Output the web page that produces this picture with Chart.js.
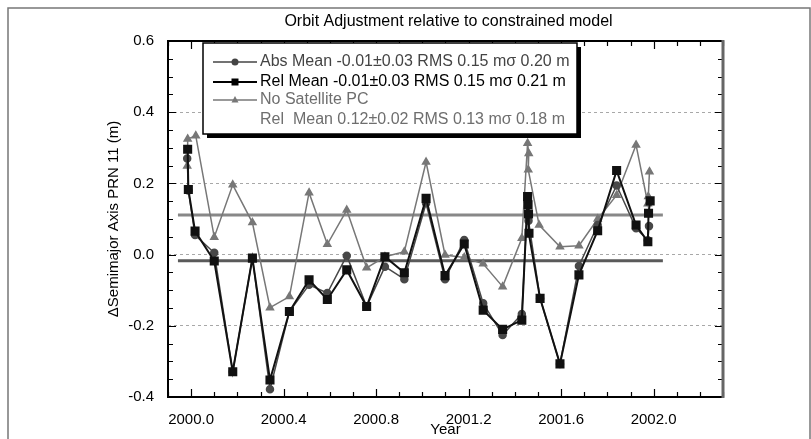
<!DOCTYPE html>
<html>
<head>
<meta charset="utf-8">
<script src="https://cdn.jsdelivr.net/npm/chart.js"></script>
<style>
  html, body { margin: 0; padding: 0; background: #fff; }
  canvas { display: block; }
</style>
</head>
<body>
<canvas id="orbitchart" width="811" height="439"></canvas>
<script>
// values (year, semimajor axis adjustment in m)
const relYears = [1999.985, 1999.988, 2000.017, 2000.100, 2000.180, 2000.265, 2000.341, 2000.425, 2000.510, 2000.589, 2000.673, 2000.759, 2000.838, 2000.922, 2001.016, 2001.098, 2001.181, 2001.263, 2001.347, 2001.430, 2001.455, 2001.457, 2001.459, 2001.461, 2001.509, 2001.595, 2001.677, 2001.758, 2001.840, 2001.924, 2001.975, 2001.978, 2001.985];
const relValues = [0.296, 0.183, 0.066, -0.018, -0.329, -0.010, -0.352, -0.160, -0.071, -0.126, -0.043, -0.146, -0.006, -0.051, 0.158, -0.059, 0.030, -0.156, -0.210, -0.184, 0.163, 0.140, 0.114, 0.060, -0.123, -0.307, -0.057, 0.067, 0.236, 0.083, 0.036, 0.116, 0.151];

const absYears = [1999.983, 1999.988, 2000.017, 2000.100, 2000.180, 2000.265, 2000.341, 2000.425, 2000.510, 2000.589, 2000.673, 2000.759, 2000.838, 2000.922, 2001.016, 2001.098, 2001.181, 2001.263, 2001.347, 2001.430, 2001.455, 2001.459, 2001.509, 2001.595, 2001.677, 2001.758, 2001.840, 2001.924, 2001.975, 2001.980];
const absValues = [0.270, 0.180, 0.055, 0.005, -0.329, -0.010, -0.378, -0.160, -0.085, -0.108, -0.003, -0.146, -0.034, -0.069, 0.144, -0.069, 0.041, -0.137, -0.226, -0.167, 0.150, 0.095, -0.123, -0.307, -0.032, 0.083, 0.194, 0.074, 0.040, 0.080];

const npcYears = [1999.983, 1999.985, 2000.020, 2000.100, 2000.180, 2000.265, 2000.341, 2000.425, 2000.510, 2000.589, 2000.673, 2000.759, 2000.838, 2000.922, 2001.016, 2001.098, 2001.181, 2001.263, 2001.347, 2001.430, 2001.455, 2001.460, 2001.458, 2001.505, 2001.595, 2001.677, 2001.758, 2001.840, 2001.924, 2001.975, 2001.977, 2001.982];
const npcValues = [0.249, 0.325, 0.334, 0.049, 0.196, 0.090, -0.149, -0.118, 0.174, 0.029, 0.125, -0.037, -0.006, 0.008, 0.260, -0.001, -0.008, -0.026, -0.090, 0.046, 0.313, 0.284, 0.238, 0.083, 0.022, 0.025, 0.100, 0.167, 0.308, 0.143, 0.163, 0.233];

// mean levels drawn as horizontal bars
const meanSpan = [1999.943, 2002.040];
const npcMean = 0.111;
const relMean = -0.017;

const titleText = "Orbit Adjustment relative to constrained model";
const legendLines = [
    "Abs Mean -0.01\u00b10.03 RMS 0.15 m\u03c3 0.20 m",
    "Rel Mean -0.01\u00b10.03 RMS 0.15 m\u03c3 0.21 m",
    "No Satellite PC",
    "Rel  Mean 0.12\u00b10.02 RMS 0.13 m\u03c3 0.18 m"
];

const FONT = "'Liberation Sans', Arial, Helvetica, sans-serif";

function pairs(xs, ys) {
    return xs.map((x, i) => ({ x: x, y: ys[i] }));
}

function isMultiple(v, step) {
    const q = v / step;
    return Math.abs(q - Math.round(q)) < 1e-6;
}

// inner tick marks on all four sides, plot frame and title
const framePlugin = {
    id: "frame",
    afterDraw(chart) {
        const c = chart.ctx;
        const a = chart.chartArea;
        const xs = chart.scales.x;
        const ys = chart.scales.y;
        c.save();
        c.strokeStyle = "#000";
        c.lineWidth = 1.2;
        ys.ticks.forEach(t => {
            const py = Math.round(ys.getPixelForValue(t.value)) + 0.5;
            const len = isMultiple(t.value, 0.2) ? 8 : 5;
            c.beginPath();
            c.moveTo(a.left, py); c.lineTo(a.left + len, py);
            c.moveTo(a.right, py); c.lineTo(a.right - len, py);
            c.stroke();
        });
        xs.ticks.forEach(t => {
            const px = Math.round(xs.getPixelForValue(t.value)) + 0.5;
            const major = Math.round(t.value * 10) % 4 === 0;
            const len = major ? 8 : 5;
            c.beginPath();
            c.moveTo(px, a.bottom); c.lineTo(px, a.bottom - len);
            c.moveTo(px, a.top); c.lineTo(px, a.top + len);
            c.stroke();
        });
        c.lineWidth = 2;
        c.beginPath();
        c.moveTo(a.right, a.top); c.lineTo(a.left, a.top);
        c.lineTo(a.left, a.bottom); c.lineTo(a.right, a.bottom);
        c.stroke();
        c.strokeStyle = "#666";
        c.lineWidth = 3;
        c.beginPath();
        c.moveTo(a.right, a.top - 1); c.lineTo(a.right, a.bottom + 1);
        c.stroke();

        // title centred over the plot
        c.fillStyle = "#000";
        c.font = "16px " + FONT;
        c.textAlign = "center";
        c.textBaseline = "middle";
        c.fillText(titleText, (a.left + a.right) / 2 + 3, 22);

        // outer figure border
        c.strokeStyle = "#777";
        c.lineWidth = 1.5;
        c.strokeRect(8, 8, 802, 432);
        c.restore();
    }
};

function drawMarker(c, style, x, y, color) {
    c.fillStyle = color;
    c.beginPath();
    if (style === "circle") {
        c.arc(x, y, 3.5, 0, Math.PI * 2);
    } else if (style === "rect") {
        c.rect(x - 3.5, y - 3.5, 7, 7);
    } else {
        c.moveTo(x, y - 4); c.lineTo(x + 3.5, y + 2.5); c.lineTo(x - 3.5, y + 2.5); c.closePath();
    }
    c.fill();
}

// boxed legend with drop shadow
const legendPlugin = {
    id: "boxLegend",
    afterDraw(chart) {
        const c = chart.ctx;
        c.save();
        c.fillStyle = "#000";
        c.fillRect(207, 47, 374, 91);
        c.fillStyle = "#fff";
        c.fillRect(203, 43, 374, 91);
        c.strokeStyle = "#000";
        c.lineWidth = 1.5;
        c.strokeRect(203, 43, 374, 91);

        const rows = [
            { y: 62, color: "#444", line: "#444", marker: "circle", w: 1.5 },
            { y: 82, color: "#000", line: "#000", marker: "rect", w: 2 },
            { y: 100, color: "#6e6e6e", line: "#777", marker: "triangle", w: 1.5 },
            { y: 120, color: "#6e6e6e", line: null }
        ];
        c.font = "16px " + FONT;
        c.textBaseline = "middle";
        c.textAlign = "left";
        rows.forEach((r, i) => {
            if (r.line) {
                c.strokeStyle = r.line;
                c.lineWidth = r.w;
                c.beginPath();
                c.moveTo(213, r.y); c.lineTo(257, r.y);
                c.stroke();
                drawMarker(c, r.marker, 235, r.y, r.line);
            }
            c.fillStyle = r.color;
            c.fillText(legendLines[i], 260, r.y);
        });
        c.restore();
    }
};

const datasets = [
    {
        label: "Rel",
        data: pairs(relYears, relValues),
        showLine: true,
        borderColor: "#111",
        backgroundColor: "#111",
        borderWidth: 2,
        pointStyle: "rect",
        pointRadius: 5,
        order: 0
    },
    {
        label: "Abs",
        data: pairs(absYears, absValues),
        showLine: true,
        borderColor: "#484848",
        backgroundColor: "#484848",
        borderWidth: 1.5,
        pointStyle: "circle",
        pointRadius: 3.5,
        order: 1
    },
    {
        label: "No Satellite PC",
        data: pairs(npcYears, npcValues),
        showLine: true,
        borderColor: "#777",
        backgroundColor: "#777",
        borderWidth: 1.5,
        pointStyle: "triangle",
        pointRadius: 4,
        order: 2
    },
    {
        label: "npc mean",
        data: pairs(meanSpan, [npcMean, npcMean]),
        showLine: true,
        borderColor: "#888",
        borderWidth: 3,
        pointRadius: 0,
        order: 3
    },
    {
        label: "rel mean",
        data: pairs(meanSpan, [relMean, relMean]),
        showLine: true,
        borderColor: "#5a5a5a",
        borderWidth: 3,
        pointRadius: 0,
        order: 3
    }
];

new Chart(document.getElementById("orbitchart"), {
    type: "scatter",
    data: { datasets: datasets },
    options: {
        responsive: false,
        animation: false,
        devicePixelRatio: 1,
        layout: { padding: { left: 105, right: 88, top: 41, bottom: 0 } },
        plugins: {
            legend: { display: false },
            tooltip: { enabled: false },
            title: { display: false }
        },
        scales: {
            x: {
                type: "linear",
                min: 1999.9,
                max: 2002.3,
                afterFit: s => { s.height = 42; },
                grid: { display: false, drawTicks: false },
                border: { display: false },
                ticks: {
                    stepSize: 0.1,
                    autoSkip: false,
                    maxRotation: 0,
                    padding: 14,
                    color: "#000",
                    font: { family: FONT, size: 15 },
                    callback: v => (Math.round(v * 10) % 4 === 0 ? v.toFixed(1) : "")
                },
                title: {
                    display: true,
                    text: "Year",
                    color: "#000",
                    font: { family: FONT, size: 15 },
                    padding: 0
                }
            },
            y: {
                min: -0.4,
                max: 0.6,
                afterFit: s => { s.width = 63; },
                grid: {
                    drawTicks: false,
                    lineWidth: 1,
                    color: ctx => {
                        const v = ctx.tick ? ctx.tick.value : 0;
                        if (!isMultiple(v, 0.2) || v <= -0.39 || v >= 0.59) return "rgba(0,0,0,0)";
                        return "#a8a8a8";
                    }
                },
                border: { display: false, dash: [3, 3] },
                ticks: {
                    stepSize: 0.05,
                    autoSkip: false,
                    padding: 14,
                    color: "#000",
                    font: { family: FONT, size: 15 },
                    callback: v => (isMultiple(v, 0.2) ? v.toFixed(1) : "")
                },
                title: {
                    display: true,
                    text: "\u0394Semimajor Axis PRN 11 (m)",
                    color: "#000",
                    font: { family: FONT, size: 15 },
                    padding: { top: 0, bottom: 0 }
                }
            }
        }
    },
    plugins: [framePlugin, legendPlugin]
});
</script>
</body>
</html>
